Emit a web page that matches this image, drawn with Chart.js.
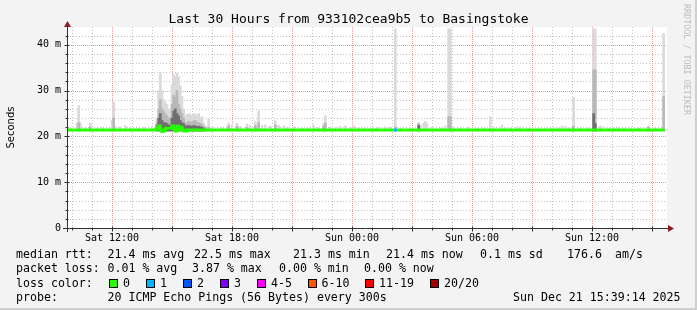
<!DOCTYPE html>
<html><head><meta charset="utf-8">
<script src="https://cdn.jsdelivr.net/npm/chart.js@4/dist/chart.umd.min.js"></script>
<style>
html,body{margin:0;padding:0;background:#f3f3f3;}
#wrap{position:relative;width:697px;height:310px;overflow:hidden;background:#f3f3f3;}
#frame{position:absolute;left:0;top:0;width:695px;height:308px;border-right:2px solid #cfcfcf;border-bottom:2px solid #cfcfcf;pointer-events:none;}
canvas{position:absolute;left:0;top:0;}
.t{position:absolute;font-family:"DejaVu Sans Mono",monospace;white-space:pre;color:#000;line-height:1;font-size:11.6px;}
#title{position:absolute;left:0;top:12px;width:697px;text-align:center;font-family:"DejaVu Sans Mono",monospace;font-size:13px;line-height:1;white-space:pre;}
#wm{position:absolute;left:683px;top:4px;writing-mode:vertical-rl;font-family:"DejaVu Sans Mono",monospace;font-size:8.4px;color:#bdbdbd;white-space:pre;line-height:1;}
.box{position:absolute;width:7px;height:7px;border:1px solid #000;}
</style></head>
<body><div id="wrap">
<canvas id="c" width="697" height="310"></canvas>
<div id="title">Last 30 Hours from 933102cea9b5 to Basingstoke</div>
<div id="wm">RRDTOOL / TOBI OETIKER</div>
<div id="legend"></div>
<div id="frame"></div>
</div>
<script>
// ---------------- data ----------------
const titleText = "Last 30 Hours from 933102cea9b5 to Basingstoke";
const xTickTimes  = ["Sat 12:00","Sat 18:00","Sun 00:00","Sun 06:00","Sun 12:00"];
const xTickLabels = ["Sat 12:00","Sat 18:00","Sun 00:00","Sun 06:00","Sun 12:00"];
const yTickValues = [0,10,20,30,40];
const yTickLabels = ["0","10 m","20 m","30 m","40 m"];
const rangeStart = "Sat 09:45";
const rangeEnd   = "Sun 15:45";
const yMax = 43.9;
const minRtt = 21.2;

// smoke samples (ms): time, outer max, middle band top, dark band top
const smokeTimes = ["Sat 09:55","Sat 10:15","Sat 10:20","Sat 10:25","Sat 10:40","Sat 10:55","Sat 11:15","Sat 11:30","Sat 12:00","Sat 12:05","Sat 12:10","Sat 12:25","Sat 12:40","Sat 12:55","Sat 13:20","Sat 13:35","Sat 13:55","Sat 14:05",
"Sat 14:15","Sat 14:20","Sat 14:25","Sat 14:30","Sat 14:35","Sat 14:40","Sat 14:45","Sat 14:50","Sat 14:55","Sat 15:00","Sat 15:05","Sat 15:10","Sat 15:15","Sat 15:20","Sat 15:25","Sat 15:30","Sat 15:35","Sat 15:40","Sat 15:45","Sat 15:50","Sat 15:55","Sat 16:00","Sat 16:05","Sat 16:10","Sat 16:15","Sat 16:20","Sat 16:25","Sat 16:30","Sat 16:35","Sat 16:40","Sat 16:45","Sat 16:50",
"Sat 17:00","Sat 17:30","Sat 17:50","Sat 18:00","Sat 18:15","Sat 18:25","Sat 18:45","Sat 18:55","Sat 19:10","Sat 19:20","Sat 19:30","Sat 19:40","Sat 19:55","Sat 20:10","Sat 20:20","Sat 20:35","Sat 20:45","Sat 21:05","Sat 21:30","Sat 21:50","Sat 22:05","Sat 22:20","Sat 22:35","Sat 22:40","Sat 22:55","Sat 23:10","Sat 23:25","Sat 23:40","Sat 23:55",
"Sun 00:05","Sun 00:20","Sun 00:35","Sun 01:00","Sun 01:15","Sun 01:40","Sun 01:55","Sun 02:10","Sun 02:25","Sun 03:00","Sun 03:20","Sun 03:25","Sun 03:35","Sun 03:40","Sun 03:45","Sun 04:00","Sun 04:30","Sun 04:40","Sun 04:50","Sun 04:55","Sun 05:05","Sun 05:25","Sun 05:50","Sun 06:15","Sun 06:35","Sun 06:55","Sun 07:05","Sun 07:30","Sun 07:40","Sun 07:55","Sun 08:15","Sun 08:25","Sun 08:50",
"Sun 09:40","Sun 10:00","Sun 10:20","Sun 10:30","Sun 10:40","Sun 10:50","Sun 11:05","Sun 11:25","Sun 11:45","Sun 12:05","Sun 12:10","Sun 12:25","Sun 12:30","Sun 12:50","Sun 13:05","Sun 13:20","Sun 13:35","Sun 13:55","Sun 14:20","Sun 14:50","Sun 15:10","Sun 15:35"];
const smokeMax = [21.9,23.0,26.7,23.0,21.9,22.9,21.8,21.9,23.5,27.5,22.2,22.1,22.4,22.0,21.8,22.0,21.8,21.9,
24.0,30.0,34.0,30.0,28.0,27.5,27.0,26.0,25.5,31.3,33.5,33.0,33.8,33.0,31.0,28.7,26.0,24.5,24.8,25.0,24.8,24.5,25.0,24.8,24.3,25.0,24.0,24.3,22.8,22.3,22.0,23.8,
22.0,21.9,22.9,22.5,22.9,22.2,22.7,22.3,23.2,25.6,22.4,22.5,22.3,23.4,22.4,22.3,22.1,22.1,21.9,21.8,22.5,22.0,22.9,24.5,22.0,21.9,22.2,22.3,22.0,
22.3,21.9,21.8,21.8,22.0,22.1,22.0,43.5,21.8,21.8,23.0,22.5,22.9,23.3,22.8,21.9,22.0,22.3,43.5,43.5,22.0,21.8,22.0,21.8,21.8,24.3,22.0,22.5,22.0,21.8,22.1,22.1,21.8,
21.8,21.8,21.9,22.3,22.2,21.9,28.5,21.8,21.9,43.5,43.5,22.3,22.1,21.8,22.0,21.9,21.8,21.8,21.9,22.3,21.9,42.5];
const smokeMid = [null,null,23.0,null,null,22.0,null,null,null,24.0,null,null,null,null,null,null,null,null,
23.0,26.0,28.0,26.0,25.5,25.0,24.5,24.0,24.0,27.0,29.0,28.5,30.0,27.0,26.0,25.0,24.0,23.0,23.0,23.3,23.2,23.0,23.4,23.5,23.0,23.0,22.8,22.7,22.2,22.0,null,22.0,
null,null,22.3,null,22.2,null,22.0,null,22.4,23.0,null,null,null,22.5,null,null,null,null,null,null,null,null,22.2,22.9,null,null,null,null,null,
null,null,null,null,null,null,null,22.1,null,null,22.8,null,null,null,null,null,null,null,24.3,24.3,null,null,null,null,null,null,null,null,null,null,null,null,null,
null,null,null,null,null,null,22.3,null,null,34.5,34.5,null,null,null,null,null,null,null,null,22.0,null,28.7];
const smokeDark = [null,null,null,null,null,null,null,null,null,null,null,null,null,null,null,null,null,null,
22.5,24.0,25.0,23.5,23.0,23.0,22.8,22.5,22.5,24.0,25.5,26.0,25.0,24.5,23.5,23.0,22.8,22.3,22.3,22.4,22.3,22.2,22.4,22.3,22.2,22.2,22.1,22.0,21.8,null,null,null,
null,null,null,null,null,null,null,null,null,null,null,null,null,null,null,null,null,null,null,null,null,null,null,null,null,null,null,null,null,
null,null,null,null,null,null,null,null,null,null,22.4,null,null,null,null,null,null,null,null,null,null,null,null,null,null,null,null,null,null,null,null,null,null,
null,null,null,null,null,null,null,null,null,25.0,22.8,null,null,null,null,null,null,null,null,null,null,null];

// median rtt (ms) with packet loss count per step
const medianTimes = ["Sat 09:45","Sat 14:15","Sat 14:20","Sat 14:25","Sat 14:30","Sat 14:35","Sat 14:40","Sat 15:00","Sat 15:05","Sat 15:10","Sat 15:15","Sat 15:20","Sat 15:25","Sat 15:30","Sat 15:35","Sat 15:45","Sat 15:50","Sun 02:05","Sun 02:15","Sun 15:38"];
const medianValues = [21.4,21.4,21.9,22.3,21.4,21.1,21.4,21.8,22.3,21.6,21.2,22.2,21.5,22.0,21.4,21.2,21.4,21.4,21.4,21.4];
const medianLoss   = [0,0,0,0,0,0,0,0,0,0,0,0,0,0,0,0,0,1,0,0];

const lossLabels = ["0","1","2","3","4-5","6-10","11-19","20/20"];
const lossColors = ["#26ff00","#00b8ff","#0059ff","#7e00ff","#ff00ff","#ff5500","#ff0000","#a10000"];

// ---------------- helpers ----------------
function tmin(s){const [d,hm]=s.split(' ');const [h,m]=hm.split(':').map(Number);return (d==='Sun'?1440:0)+h*60+m;}
function bars(tops, bottoms){
  const out=[];
  smokeTimes.forEach((t,i)=>{ if(tops[i]!=null) out.push({x:tmin(t), y:[bottoms, tops[i]]}); });
  return out;
}

// ---------------- legend (HTML text) ----------------
const legend = document.getElementById('legend');
function txt(s,l,t){const d=document.createElement('div');d.className='t';d.textContent=s;d.style.left=l+'px';d.style.top=t+'px';legend.appendChild(d);}
const r1=248.5,r2=263,r3=277.5,r4=292;
txt("median rtt:",16,r1); txt("21.4 ms avg",107.5,r1); txt("22.5 ms max",194,r1); txt("21.3 ms min",293,r1); txt("21.4 ms now",386,r1); txt("0.1 ms sd",480,r1); txt("176.6",567,r1); txt("am/s",615,r1);
txt("packet loss:",16,r2); txt("0.01 % avg",107.5,r2); txt("3.87 % max",192,r2); txt("0.00 % min",279,r2); txt("0.00 % now",364,r2);
txt("loss color:",16,r3);
const boxX=[109,146,183,220,257,307.5,365,430];
lossLabels.forEach((lab,i)=>{
  const b=document.createElement('div');b.className='box';b.style.left=boxX[i]+'px';b.style.top=(r3+1.5)+'px';b.style.background=lossColors[i];legend.appendChild(b);
  txt(lab,boxX[i]+14,r3);
});
txt("probe:",16,r4); txt("20 ICMP Echo Pings (56 Bytes) every 300s",107.5,r4); txt("Sun Dec 21 15:39:14 2025",513,r4);

// ---------------- grid / axes plugin ----------------
const rrdPlugin = {
  id:'rrd',
  beforeDatasetsDraw(chart){
    const {ctx, chartArea:a, scales:{x,y}} = chart;
    ctx.save();
    ctx.fillStyle='#ffffff';
    ctx.fillRect(a.left,a.top,a.right-a.left,a.bottom-a.top);
    ctx.lineWidth=1;
    const vline=(v)=>{const p=Math.round(x.getPixelForValue(v))+0.5;ctx.beginPath();ctx.moveTo(p,a.top);ctx.lineTo(p,a.bottom);ctx.stroke();};
    const hline=(v)=>{const p=Math.round(y.getPixelForValue(v))+0.5;ctx.beginPath();ctx.moveTo(a.left,p);ctx.lineTo(a.right,p);ctx.stroke();};
    ctx.setLineDash([1,2]); ctx.strokeStyle='#c4c4c4';
    for(let v=Math.ceil(x.min/60)*60; v<x.max; v+=60){ if(v%180!==0) vline(v); }
    for(let v=2; v<y.max; v+=2){ if(v%10!==0) hline(v); }
    ctx.setLineDash([1,1]); ctx.strokeStyle='#f29a9a';
    for(let v=Math.ceil(x.min/180)*180; v<x.max; v+=180){ vline(v); }
    for(let v=10; v<y.max; v+=10){ hline(v); }
    ctx.restore();
  },
  afterDatasetsDraw(chart){
    const {ctx, chartArea:a, scales:{x,y}} = chart;
    ctx.save();
    ctx.strokeStyle='#333'; ctx.lineWidth=1; ctx.setLineDash([]);
    const by=Math.round(a.bottom)+0.5, lx=Math.round(a.left)+0.5;
    for(let v=Math.ceil(x.min/60)*60; v<x.max; v+=60){
      const p=Math.round(x.getPixelForValue(v))+0.5, l=(v%180===0)?2:1;
      ctx.beginPath();ctx.moveTo(p,by-l);ctx.lineTo(p,by+l+1);ctx.stroke();
    }
    for(let v=2; v<y.max; v+=2){
      const p=Math.round(y.getPixelForValue(v))+0.5, l=(v%10===0)?2:1;
      ctx.beginPath();ctx.moveTo(lx-l-1,p);ctx.lineTo(lx+l,p);ctx.stroke();
    }
    ctx.beginPath();ctx.moveTo(a.left-4,by);ctx.lineTo(a.right+1,by);ctx.stroke();
    ctx.beginPath();ctx.moveTo(lx,a.bottom+4);ctx.lineTo(lx,a.top);ctx.stroke();
    ctx.fillStyle='#8e1b1b';
    ctx.beginPath();ctx.moveTo(lx-3.5,a.top);ctx.lineTo(lx+3.5,a.top);ctx.lineTo(lx,a.top-6);ctx.closePath();ctx.fill();
    ctx.beginPath();ctx.moveTo(a.right+1,by-3.5);ctx.lineTo(a.right+1,by+3.5);ctx.lineTo(a.right+7,by);ctx.closePath();ctx.fill();
    ctx.restore();
  }
};

// ---------------- chart ----------------
const barCommon = {type:'bar', grouped:false, barThickness:2, borderWidth:0, borderSkipped:false};
new Chart(document.getElementById('c'), {
  type:'bar',
  data:{ datasets:[
    Object.assign({label:'smoke outer', data:bars(smokeMax,minRtt), backgroundColor:'rgb(218,218,218)', order:4}, barCommon),
    Object.assign({label:'smoke mid', data:bars(smokeMid,minRtt), backgroundColor:'rgb(184,184,184)', order:3}, barCommon),
    Object.assign({label:'smoke dark', data:bars(smokeDark,minRtt), backgroundColor:'rgb(110,110,110)', order:2}, barCommon),
    {type:'line', label:'median rtt', order:1,
     data: medianTimes.map((t,i)=>({x:tmin(t), y:medianValues[i]})),
     borderColor:lossColors[0], borderWidth:3, pointRadius:0, stepped:'after', borderCapStyle:'butt', fill:false,
     segment:{ borderColor: c => lossColors[medianLoss[c.p0DataIndex]] }}
  ]},
  options:{
    responsive:false, animation:false, devicePixelRatio:1,
    layout:{ padding:{left:0, right:30, top:27, bottom:62} },
    plugins:{ legend:{display:false}, tooltip:{enabled:false}, title:{display:false} },
    scales:{
      x:{ type:'linear', offset:false, min:tmin(rangeStart), max:tmin(rangeEnd),
          grid:{display:false, drawTicks:false}, border:{display:false},
          afterBuildTicks: s => { s.ticks = xTickTimes.map(t=>({value:tmin(t)})); },
          afterFit: s => { s.height = 20; },
          ticks:{ padding:4, autoSkip:false, maxRotation:0, color:'#000',
                  font:{family:'"DejaVu Sans Mono", monospace', size:10},
                  callback:(v)=>{ const i=xTickTimes.findIndex(t=>tmin(t)===v); return i>=0?xTickLabels[i]:''; } } },
      y:{ type:'linear', min:0, max:yMax,
          grid:{display:false, drawTicks:false}, border:{display:false},
          afterBuildTicks: s => { s.ticks = yTickValues.map(v=>({value:v})); },
          afterFit: s => { s.width = 67; },
          title:{ display:true, text:'Seconds', color:'#000', padding:{top:5,bottom:0},
                  font:{family:'"DejaVu Sans", sans-serif', size:10} },
          ticks:{ padding:6, color:'#000', font:{family:'"DejaVu Sans Mono", monospace', size:10},
                  callback:(v)=>{ const i=yTickValues.indexOf(v); return i>=0?yTickLabels[i]:''; } } }
    }
  },
  plugins:[rrdPlugin]
});
</script>
</body></html>
